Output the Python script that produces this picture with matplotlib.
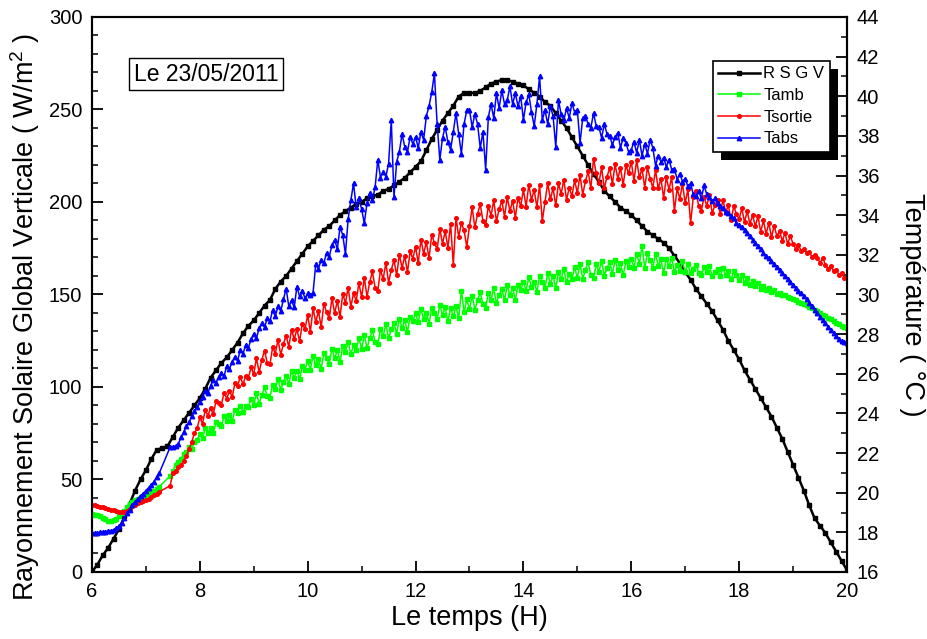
import numpy as np
import matplotlib
matplotlib.use("Agg")
import matplotlib.pyplot as plt
from matplotlib.patches import Rectangle

plt.rcParams['font.family'] = ['Liberation Sans', 'DejaVu Sans']
plt.rcParams['mathtext.fontset'] = 'custom'
plt.rcParams['mathtext.rm'] = 'Liberation Sans'

# time grids (hours); temperature logging has a hole between 7.25 h and 7.45 h
t_rad = np.round(np.arange(6.0, 20.001, 0.1), 2)
t_temp = np.round(np.concatenate([np.arange(6.0, 7.2501, 0.05),
                                  np.arange(7.45, 20.001, 0.05)]), 2)

# R S G V, W/m2 (left axis), one value every 0.1 h
rsgv = [
    0, 4, 9, 13, 18, 23, 30, 37, 44, 50,
    55, 61, 66, 67, 68, 73, 78, 82, 86, 90,
    94, 99, 105, 109, 113, 116, 120, 124, 129, 133,
    136, 140, 144, 147, 153, 157, 160, 164, 168, 172,
    176, 179, 182, 185, 187, 190, 193, 195, 197, 199,
    200, 202, 203, 204, 206, 207, 209, 211, 213, 216,
    219, 222, 228, 234, 239, 244, 248, 252, 257, 259,
    259, 259, 260, 262, 264, 265, 266, 266, 265, 264,
    263, 261, 259, 257, 254, 252, 248, 244, 240, 235,
    230, 225, 220, 215, 211, 206, 203, 200, 197, 195,
    193, 190, 187, 184, 182, 180, 178, 175, 171, 167,
    162, 158, 153, 149, 145, 141, 136, 131, 125, 120,
    115, 109, 104, 99, 94, 89, 84, 78, 72, 65,
    58, 51, 44, 36, 29, 25, 21, 16, 11, 6,
    1,
]

# temperatures in degC (right axis), one value every 0.05 h
tamb = [
    18.90, 18.88, 18.85, 18.80, 18.72, 18.66, 18.58, 18.55, 18.60, 18.68,
    18.80, 18.95, 19.10, 19.30, 19.45, 19.52, 19.62, 19.70, 19.76, 19.80,
    19.86, 19.95, 20.02, 20.10, 20.20, 20.30,
    20.85, 21.10, 21.40, 21.55, 21.70, 21.95, 22.05, 22.30, 22.20, 22.55, 22.65,
    22.98, 22.77, 23.25, 23.01, 23.25, 23.01, 23.55, 23.46, 23.34, 23.85,
    23.61, 23.91, 23.61, 24.15, 24.03, 24.39, 24.06, 24.39, 24.30, 24.72,
    24.40, 25.01, 24.49, 24.94, 25.31, 24.88, 24.80, 25.45, 25.22, 25.74,
    25.19, 25.60, 25.88, 25.49, 26.14, 25.79, 26.15, 25.72, 26.37, 26.21,
    26.65, 26.21, 26.92, 26.42, 26.73, 26.24, 27.05, 26.81, 26.51, 27.27,
    26.78, 27.19, 26.60, 27.40, 27.11, 27.62, 26.98, 27.44, 27.19, 27.80,
    27.25, 27.96, 27.28, 27.79, 28.20, 27.62, 27.48, 28.24, 27.90, 28.52,
    27.78, 28.24, 28.56, 28.02, 28.78, 28.30, 28.71, 28.12, 28.88, 28.65,
    29.05, 28.59, 29.28, 28.76, 29.05, 28.53, 29.32, 29.05, 28.74, 29.48,
    28.96, 29.35, 28.65, 29.30, 28.90, 29.40, 28.80, 30.20, 29.10, 29.75,
    29.25, 29.94, 29.23, 29.72, 30.11, 29.50, 29.34, 30.08, 29.72, 30.31,
    29.55, 29.99, 30.28, 29.72, 30.46, 29.95, 30.34, 29.73, 30.47, 30.21,
    30.65, 30.19, 30.87, 30.36, 30.64, 30.13, 30.91, 30.65, 30.33, 31.07,
    30.55, 30.94, 30.32, 31.11, 30.79, 31.28, 30.61, 31.05, 30.78, 31.37,
    30.85, 31.52, 30.79, 31.25, 31.62, 30.99, 30.81, 31.53, 31.14, 31.71,
    30.93, 31.35, 31.62, 31.03, 31.75, 31.22, 31.59, 30.96, 31.67, 31.39,
    31.80, 31.35, 32.05, 31.55, 32.45, 31.35, 32.07, 31.74, 31.36, 32.03,
    31.45, 31.77, 31.09, 31.81, 31.43, 31.85, 31.12, 31.49, 31.16, 31.68,
    31.15, 31.52, 31.06, 31.31, 31.51, 31.10, 30.96, 31.37, 31.11, 31.43,
    30.93, 31.15, 31.29, 30.91, 31.32, 30.97, 31.16, 30.76, 31.16, 30.97,
    30.75, 31.00, 30.60, 30.85, 30.50, 30.70, 30.45, 30.60, 30.30, 30.45,
    30.25, 30.35, 30.12, 30.22, 30.02, 30.10, 29.95, 29.98, 29.85, 29.82,
    29.75, 29.70, 29.62, 29.58, 29.50, 29.45, 29.36, 29.30, 29.22, 29.15,
    29.06, 28.98, 28.90, 28.82, 28.74, 28.66, 28.58, 28.50, 28.42, 28.36,
    28.30,
]

tsortie = [
    19.40, 19.38, 19.35, 19.30, 19.26, 19.22, 19.18, 19.15, 19.12, 19.08,
    19.05, 19.04, 19.05, 19.10, 19.20, 19.32, 19.40, 19.46, 19.52, 19.56,
    19.62, 19.70, 19.78, 19.86, 19.95, 20.05,
    20.35, 21.00, 21.10, 21.30, 21.40, 21.60, 21.85, 22.20, 22.55, 23.00, 23.25,
    23.80, 23.48, 24.16, 23.89, 24.27, 23.95, 24.63, 24.51, 24.44, 25.05,
    24.75, 25.15, 24.83, 25.51, 25.37, 25.85, 25.46, 25.89, 25.79, 26.32,
    25.97, 26.80, 26.07, 26.70, 27.17, 26.56, 26.47, 27.34, 27.01, 27.72,
    26.95, 27.50, 27.93, 27.36, 28.23, 27.74, 28.25, 27.64, 28.51, 28.26,
    28.95, 28.13, 29.31, 28.59, 29.17, 28.35, 29.53, 29.11, 28.79, 29.82,
    29.05, 29.68, 28.86, 30.04, 29.57, 30.35, 29.38, 30.06, 29.69, 30.57,
    29.85, 30.84, 29.88, 30.62, 31.16, 30.35, 30.19, 31.23, 30.77, 31.61,
    30.60, 31.24, 31.73, 30.97, 32.01, 31.35, 31.94, 31.13, 32.17, 31.81,
    32.40, 31.59, 32.77, 32.06, 32.64, 31.83, 33.01, 32.60, 32.28, 33.32,
    32.55, 33.19, 32.37, 33.56, 31.50, 33.88, 32.91, 33.60, 33.23, 32.40,
    33.45, 34.39, 33.38, 34.07, 34.56, 33.70, 33.49, 34.48, 33.97, 34.76,
    33.70, 34.29, 34.73, 33.92, 34.91, 34.20, 34.74, 33.88, 34.87, 34.46,
    35.30, 34.42, 35.54, 34.76, 35.28, 34.40, 35.52, 33.70, 34.66, 35.63,
    34.80, 35.37, 34.49, 35.61, 35.08, 35.80, 34.77, 35.39, 34.96, 35.78,
    35.10, 36.04, 35.03, 35.72, 36.21, 35.35, 36.85, 36.13, 35.62, 36.41,
    35.35, 35.94, 36.38, 35.57, 36.56, 35.85, 36.39, 35.53, 36.52, 36.11,
    36.70, 35.74, 36.77, 35.91, 36.34, 35.38, 36.41, 35.85, 35.38, 36.27,
    35.35, 35.84, 34.87, 35.91, 35.29, 35.93, 34.20, 35.35, 34.83, 35.57,
    34.62, 35.30, 33.60, 34.90, 35.22, 34.46, 34.22, 34.94, 34.46, 35.02,
    34.10, 34.50, 34.78, 34.06, 34.78, 34.14, 34.50, 33.74, 34.46, 34.06,
    33.80, 34.35, 33.65, 34.20, 33.55, 34.00, 33.45, 33.95, 33.15, 33.75,
    33.05, 33.60, 32.90, 33.45, 32.95, 33.20, 32.70, 33.10, 32.55, 32.95,
    32.55, 32.30, 32.50, 32.20, 32.30, 32.10, 32.15, 31.90, 32.00, 31.85,
    31.60, 31.85, 31.50, 31.30, 31.45, 31.20, 31.25, 31.00, 31.10, 30.85,
    30.90,
]

tabs = [
    17.95, 17.96, 17.98, 18.00, 18.02, 18.04, 18.05, 18.08, 18.12, 18.20,
    18.32, 18.48, 18.70, 18.95, 19.15, 19.40, 19.55, 19.70, 19.85, 19.95,
    20.10, 20.25, 20.40, 20.55, 20.80, 21.00,
    22.30, 22.32, 22.34, 22.45, 22.80, 23.05, 23.35, 23.55, 23.85, 24.10, 24.30,
    24.60, 24.85, 25.15, 25.05, 25.40, 25.70, 25.55, 25.85, 26.05, 25.90,
    26.40, 26.25, 26.60, 26.85, 26.65, 27.20, 27.00, 27.45, 27.30, 27.75,
    28.00, 27.80, 28.30, 28.55, 28.35, 28.80, 28.65, 29.20, 28.90, 29.40,
    29.15, 29.75, 30.30, 29.40, 29.70, 29.35, 30.40, 29.90, 30.20, 29.80,
    30.05, 29.95, 30.10, 31.55, 31.30, 31.75, 31.60, 32.10, 31.90, 32.50,
    32.75, 32.30, 33.40, 33.00, 32.05, 33.80, 34.75, 35.60, 34.40, 34.85,
    34.30, 33.60, 34.60, 35.10, 34.75, 35.40, 36.80, 35.90, 36.20, 35.95,
    36.60, 38.80, 34.90, 36.70, 37.20, 38.10, 37.45, 37.20, 37.95, 37.60,
    37.95, 37.40, 38.20, 37.80, 39.00, 39.50, 40.20, 41.15, 38.60, 36.80,
    37.90, 38.45, 37.70, 37.30, 38.20, 39.15, 38.10, 37.10, 38.60, 39.30,
    39.30, 38.45, 39.10, 38.60, 37.40, 38.20, 36.30, 38.95, 39.60, 38.90,
    40.15, 39.40, 40.30, 39.60, 39.80, 40.50, 39.60, 40.15, 39.50, 40.00,
    38.80, 39.70, 40.10, 39.20, 38.50, 39.60, 41.00, 38.80, 39.30, 38.60,
    39.50, 39.00, 37.45, 39.80, 39.10, 38.80, 39.40, 38.90, 39.65, 39.20,
    39.30, 37.65, 38.90, 39.00, 38.60, 38.40, 39.15, 38.50, 38.45, 37.90,
    38.60, 38.10, 38.00, 37.55, 37.95, 38.15, 37.40, 37.90, 37.65, 37.20,
    37.30, 37.70, 37.15, 37.80, 37.00, 37.60, 37.10, 37.80, 37.40, 36.50,
    37.00, 36.70, 36.90, 36.45, 36.80, 36.30, 36.35, 35.80, 36.10, 35.70,
    35.85, 35.45, 35.60, 35.05, 34.95, 35.20, 34.85, 35.50, 35.05, 34.90,
    34.70, 34.85, 34.60, 34.45, 34.35, 34.15, 34.10, 33.95, 33.85, 33.60,
    33.50, 33.40, 33.25, 33.10, 32.95, 32.75, 32.60, 32.45, 32.30, 32.10,
    31.95, 31.85, 31.70, 31.55, 31.40, 31.25, 31.10, 30.95, 30.80, 30.65,
    30.50, 30.35, 30.20, 30.05, 29.90, 29.75, 29.58, 29.40, 29.22, 29.05,
    28.88, 28.70, 28.55, 28.38, 28.22, 28.05, 27.90, 27.75, 27.65, 27.58,
    27.54,
]

for name, s, t in [("rsgv", rsgv, t_rad), ("tamb", tamb, t_temp),
                   ("tsortie", tsortie, t_temp), ("tabs", tabs, t_temp)]:
    if len(s) != len(t):
        raise ValueError(f"{name}: {len(s)} values for {len(t)} times")

fig = plt.figure(figsize=(9.28, 6.39), dpi=100)
ax = fig.add_axes([0.0991, 0.1049, 0.8136, 0.8685])
ax2 = ax.twinx()

l1, = ax.plot(t_rad, rsgv, color="k", marker="s", ms=3.4, lw=1.8, label="R S G V")
l2, = ax2.plot(t_temp, tamb, color="#00ff00", marker="s", ms=2.6, lw=1.1, label="Tamb")
l3, = ax2.plot(t_temp, tsortie, color="#ff0000", marker="o", ms=2.6, lw=1.1, label="Tsortie")
l4, = ax2.plot(t_temp, tabs, color="#0000ff", marker="^", ms=3.2, lw=1.1, label="Tabs")

ax.set_xlim(6, 20)
ax.set_ylim(0, 300)
ax2.set_ylim(16, 44)
ax.set_xticks(np.arange(6, 21, 2))
ax.set_xticks(np.arange(6, 21, 1), minor=True)
ax.set_yticks(np.arange(0, 301, 50))
ax.set_yticks(np.arange(0, 301, 10), minor=True)
ax2.set_yticks(np.arange(16, 45, 2))
ax2.set_yticks(np.arange(16, 45, 1), minor=True)

for a in (ax, ax2):
    a.tick_params(which="major", direction="in", length=8, width=1.3, labelsize=14.5, pad=7)
    a.tick_params(which="minor", direction="in", length=4.5, width=1.1)
    for sp in a.spines.values():
        sp.set_linewidth(1.5)

ax.set_xlabel("Le temps (H)", fontsize=19.5, labelpad=3)
fig.text(0.0269, 0.504, r"Rayonnement Solaire Global Verticale ( W/m$^2$ )",
         rotation=90, ha="center", va="center", fontsize=19.5)
fig.text(0.9828, 0.5227, "Température ( °C )", rotation=270,
         ha="center", va="center", fontsize=19.5)

ax.text(0.151, 0.897, "Le 23/05/2011", transform=ax.transAxes, ha="center", va="center",
        fontsize=16.5, bbox=dict(boxstyle="square,pad=0.2", fc="white", ec="k", lw=1))

leg = ax2.legend(handles=[l1, l2, l3, l4], loc="upper left", bbox_to_anchor=(0.8225, 0.9207),
                 fontsize=12, fancybox=False, edgecolor="k", framealpha=1, borderaxespad=0,
                 handlelength=2.5, handletextpad=0.2, labelspacing=0.4, borderpad=0.32,
                 numpoints=1)
leg.get_frame().set_linewidth(1.2)

# black drop shadow behind the legend box
fig.canvas.draw()
bb = leg.get_window_extent()
inv = ax2.transAxes.inverted()
(x0, y0), (x1, y1) = inv.transform([(bb.x0 + 8, bb.y0 - 8), (bb.x1 + 8, bb.y1 - 8)])
ax2.add_patch(Rectangle((x0, y0), x1 - x0, y1 - y0, transform=ax2.transAxes,
                        fc="k", ec="none", zorder=4.5, clip_on=False))

fig.savefig("out.png", dpi=100)
